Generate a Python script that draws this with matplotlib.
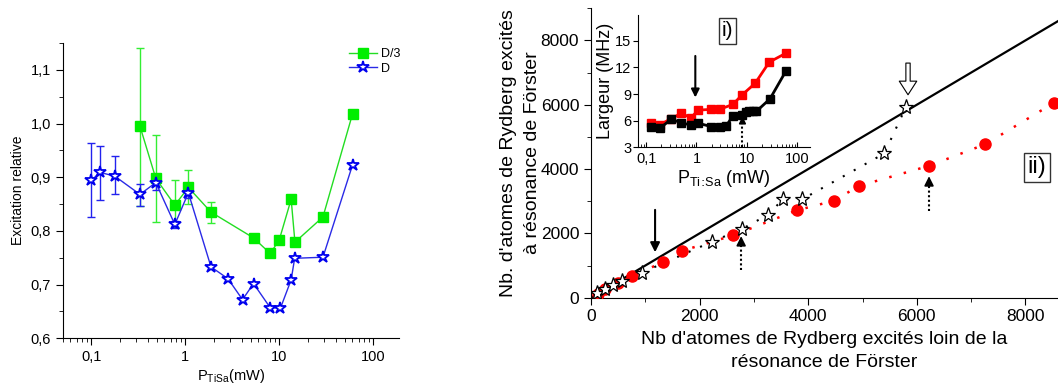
import numpy as np
import matplotlib
matplotlib.use("Agg")
import matplotlib.pyplot as plt
from matplotlib.ticker import FuncFormatter, MultipleLocator, LogLocator, NullFormatter

plt.rcParams['font.family'] = ['Liberation Sans', 'DejaVu Sans']

# ---- left panel: relative excitation vs TiSa power ----
p_d = [0.1, 0.124, 0.178, 0.33, 0.486, 0.775, 1.08, 1.88, 2.85, 4.07, 5.33, 8.02, 10.3, 13.4, 14.6, 29.2, 60.3]
exc_d = [0.894, 0.909, 0.902, 0.868, 0.890, 0.812, 0.871, 0.733, 0.711, 0.672, 0.702, 0.657, 0.656, 0.709, 0.749, 0.751, 0.923]
err_d_lo = [0.825, 0.858, 0.868, 0.847, 0.876, 0.805, 0.862]
err_d_hi = [0.963, 0.959, 0.940, 0.888, 0.903, 0.818, 0.880]

p_d3 = [0.33, 0.486, 0.775, 1.08, 1.88, 5.33, 8.02, 10.0, 13.4, 14.7, 29.2, 60.3]
exc_d3 = [0.995, 0.898, 0.848, 0.881, 0.835, 0.787, 0.758, 0.783, 0.859, 0.779, 0.826, 1.018]
err_d3_lo = [0.847, 0.817, 0.808, 0.850, 0.815]
err_d3_hi = [1.140, 0.978, 0.894, 0.913, 0.854]

# ---- right panel: atoms at Forster resonance vs far from it ----
far_red = [135, 258, 503, 761, 1333, 1683, 2618, 3785, 4467, 4940, 6225, 7263, 8522]
res_red = [124, 280, 447, 674, 1109, 1460, 1938, 2714, 3012, 3478, 4099, 4773, 6056]
far_star = [116, 258, 411, 577, 934, 2225, 2778, 3257, 3534, 3884, 5401, 5801]
res_star = [155, 261, 394, 519, 776, 1739, 2133, 2578, 3056, 3056, 4484, 5932]

# ---- inset: linewidth vs power ----
p_red = [0.126, 0.186, 0.313, 0.493, 0.778, 1.09, 1.94, 2.87, 5.28, 8.19, 14.6, 28.0, 60.0]
w_red = [5.79, 5.52, 6.23, 6.82, 6.34, 7.19, 7.27, 7.27, 7.83, 8.94, 10.2, 12.6, 13.6]
p_blk = [0.126, 0.186, 0.313, 0.493, 0.778, 1.09, 1.94, 2.87, 3.89, 5.28, 8.19, 9.5, 11.0, 13.0, 15.5, 28.9, 60.0]
w_blk = [5.34, 5.12, 6.15, 5.79, 5.49, 5.71, 5.34, 5.34, 5.41, 6.52, 6.68, 7.0, 7.05, 7.05, 7.05, 8.46, 11.6]


def comma(v, pos):
    s = ('%g' % v)
    return s.replace('.', ',')


fig = plt.figure(figsize=(10.58, 3.85), dpi=100)

# left panel
ax1 = fig.add_axes([0.0595, 0.1213, 0.318, 0.767])
ax1.errorbar(p_d3[:5], exc_d3[:5],
             yerr=[np.array(exc_d3[:5]) - err_d3_lo, np.array(err_d3_hi) - exc_d3[:5]],
             fmt='none', ecolor='#33ee33', elinewidth=1, capsize=3)
ax1.errorbar(p_d[:7], exc_d[:7],
             yerr=[np.array(exc_d[:7]) - err_d_lo, np.array(err_d_hi) - exc_d[:7]],
             fmt='none', ecolor='#2222ee', elinewidth=1, capsize=3)
ax1.plot(p_d3, exc_d3, '-s', color='#22dd22', lw=1, ms=6.5, mfc='#00ee00', mec='#00ee00', label='D/3')
ax1.plot(p_d, exc_d, '-*', color='#2a2ae6', lw=1, ms=9, mfc='white', mec='#0000ee', mew=1.3, label='D')
ax1.set_xscale('log')
ax1.set_xlim(0.05, 190)
ax1.set_ylim(0.6, 1.15)
ax1.yaxis.set_major_locator(MultipleLocator(0.1))
ax1.yaxis.set_minor_locator(MultipleLocator(0.05))
ax1.yaxis.set_major_formatter(FuncFormatter(lambda v, p: ('%.1f' % v).replace('.', ',')))
ax1.xaxis.set_major_locator(LogLocator(base=10, numticks=10))
ax1.xaxis.set_minor_locator(LogLocator(base=10, subs=np.arange(2, 10), numticks=10))
ax1.xaxis.set_minor_formatter(NullFormatter())
ax1.xaxis.set_major_formatter(FuncFormatter(comma))
for s in ['top', 'right']:
    ax1.spines[s].set_visible(False)
ax1.tick_params(which='both', direction='out', labelsize=10.5)
ax1.tick_params(which='major', length=5)
ax1.tick_params(which='minor', length=3)
ax1.set_ylabel('Excitation relative', fontsize=10)
ax1.set_xlabel(r'P$_{\mathregular{TiSa}}$(mW)', fontsize=10.5, labelpad=2)
ax1.legend(loc='upper right', bbox_to_anchor=(1.035, 1.02), frameon=False, fontsize=9,
           handlelength=2.2, handletextpad=0.3, labelspacing=0.2)

# right panel
ax2 = fig.add_axes([0.5586, 0.2268, 0.4414, 0.7517])
diag = np.array([0, 8600])
ax2.plot(diag, diag, '-', color='black', lw=1.6, zorder=2)
ax2.plot(far_red, res_red, linestyle=(0, (1, 5)), color='red', lw=1.8, zorder=3)
ax2.plot(far_red, res_red, 'o', color='red', ms=8, zorder=4)
ax2.plot(far_star, res_star, linestyle=(0, (1, 5)), color='black', lw=1.5, zorder=3)
ax2.plot(far_star, res_star, '*', ms=11, mfc='white', mec='black', mew=0.9, zorder=5)
ax2.set_xlim(0, 8600)
ax2.set_ylim(0, 9000)
ax2.xaxis.set_major_locator(MultipleLocator(2000))
ax2.xaxis.set_minor_locator(MultipleLocator(1000))
ax2.yaxis.set_major_locator(MultipleLocator(2000))
ax2.yaxis.set_minor_locator(MultipleLocator(1000))
for s in ['top', 'right']:
    ax2.spines[s].set_visible(False)
ax2.tick_params(which='both', direction='out', labelsize=12.5)
ax2.tick_params(which='major', length=5)
ax2.tick_params(which='minor', length=3)
ax2.set_xlabel("Nb d'atomes de Rydberg excités loin de la\nrésonance de Förster", fontsize=14,
               labelpad=5, linespacing=1.45)
ax2.set_ylabel("Nb. d'atomes de Rydberg excités\nà résonance de Förster", fontsize=14,
               labelpad=0, linespacing=1.5)

# arrows on the main panel
ax2.annotate('', xy=(1180, 1326), xytext=(1180, 2817),
             arrowprops=dict(arrowstyle='-|>', color='black', lw=1.5, mutation_scale=14))
for ax_x, y0, y1 in [(2765, 860, 2000), (6225, 2693, 3863)]:
    ax2.plot([ax_x, ax_x], [y0, y1 - 200], linestyle=(0, (1, 1.2)), color='black', lw=1.5)
    ax2.annotate('', xy=(ax_x, y1), xytext=(ax_x, y1 - 300),
                 arrowprops=dict(arrowstyle='-|>', color='black', lw=1.2, mutation_scale=14))
ax2.annotate('', xy=(5838, 6224), xytext=(5838, 7382),
             arrowprops=dict(arrowstyle='simple,head_length=0.7,head_width=0.9,tail_width=0.22',
                             fc='white', ec='black', lw=0.8, mutation_scale=14))
ax2.text(0.955, 0.45, 'ii)', transform=ax2.transAxes, fontsize=17, ha='center', va='center',
         bbox=dict(boxstyle='square,pad=0.15', fc='white', ec='#333333', lw=1))

# inset
ax3 = fig.add_axes([0.6033, 0.6174, 0.1623, 0.3436])
ax3.plot(p_red, w_red, '-s', color='red', lw=2, ms=5.5)
ax3.plot(p_blk, w_blk, '-s', color='black', lw=2, ms=5.5)
ax3.set_xscale('log')
ax3.set_xlim(0.07, 180)
ax3.set_ylim(3, 17.9)
ax3.yaxis.set_major_locator(MultipleLocator(3))
ax3.xaxis.set_major_locator(LogLocator(base=10, numticks=10))
ax3.xaxis.set_minor_locator(LogLocator(base=10, subs=np.arange(2, 10), numticks=10))
ax3.xaxis.set_minor_formatter(NullFormatter())
ax3.xaxis.set_major_formatter(FuncFormatter(comma))
for s in ['top', 'right']:
    ax3.spines[s].set_visible(False)
ax3.tick_params(axis='x', which='both', direction='in', labelsize=10.5)
ax3.tick_params(axis='y', which='both', direction='out', labelsize=10.5, pad=1.5)
ax3.tick_params(which='major', length=3.5)
ax3.tick_params(which='minor', length=2)
ax3.set_ylabel('Largeur (MHz)', fontsize=13, labelpad=1)
ax3.set_xlabel(r'P$_{\mathregular{Ti}\!:\!\mathregular{Sa}}$ (mW)', fontsize=13, labelpad=1)
ax3.annotate('', xy=(0.95, 8.3), xytext=(0.95, 13.6),
             arrowprops=dict(arrowstyle='-|>', color='black', lw=1.5, mutation_scale=12))
ax3.plot([8.2, 8.2], [3, 6.0], linestyle=(0, (1, 1.2)), color='black', lw=1.5)
ax3.annotate('', xy=(8.2, 6.8), xytext=(8.2, 6.0),
             arrowprops=dict(arrowstyle='-|>', color='black', lw=1.2, mutation_scale=10))
ax3.text(0.52, 0.88, 'i)', transform=ax3.transAxes, fontsize=15, ha='center', va='center',
         bbox=dict(boxstyle='square,pad=0.15', fc='white', ec='#333333', lw=1))

fig.savefig('out.png', dpi=100)
